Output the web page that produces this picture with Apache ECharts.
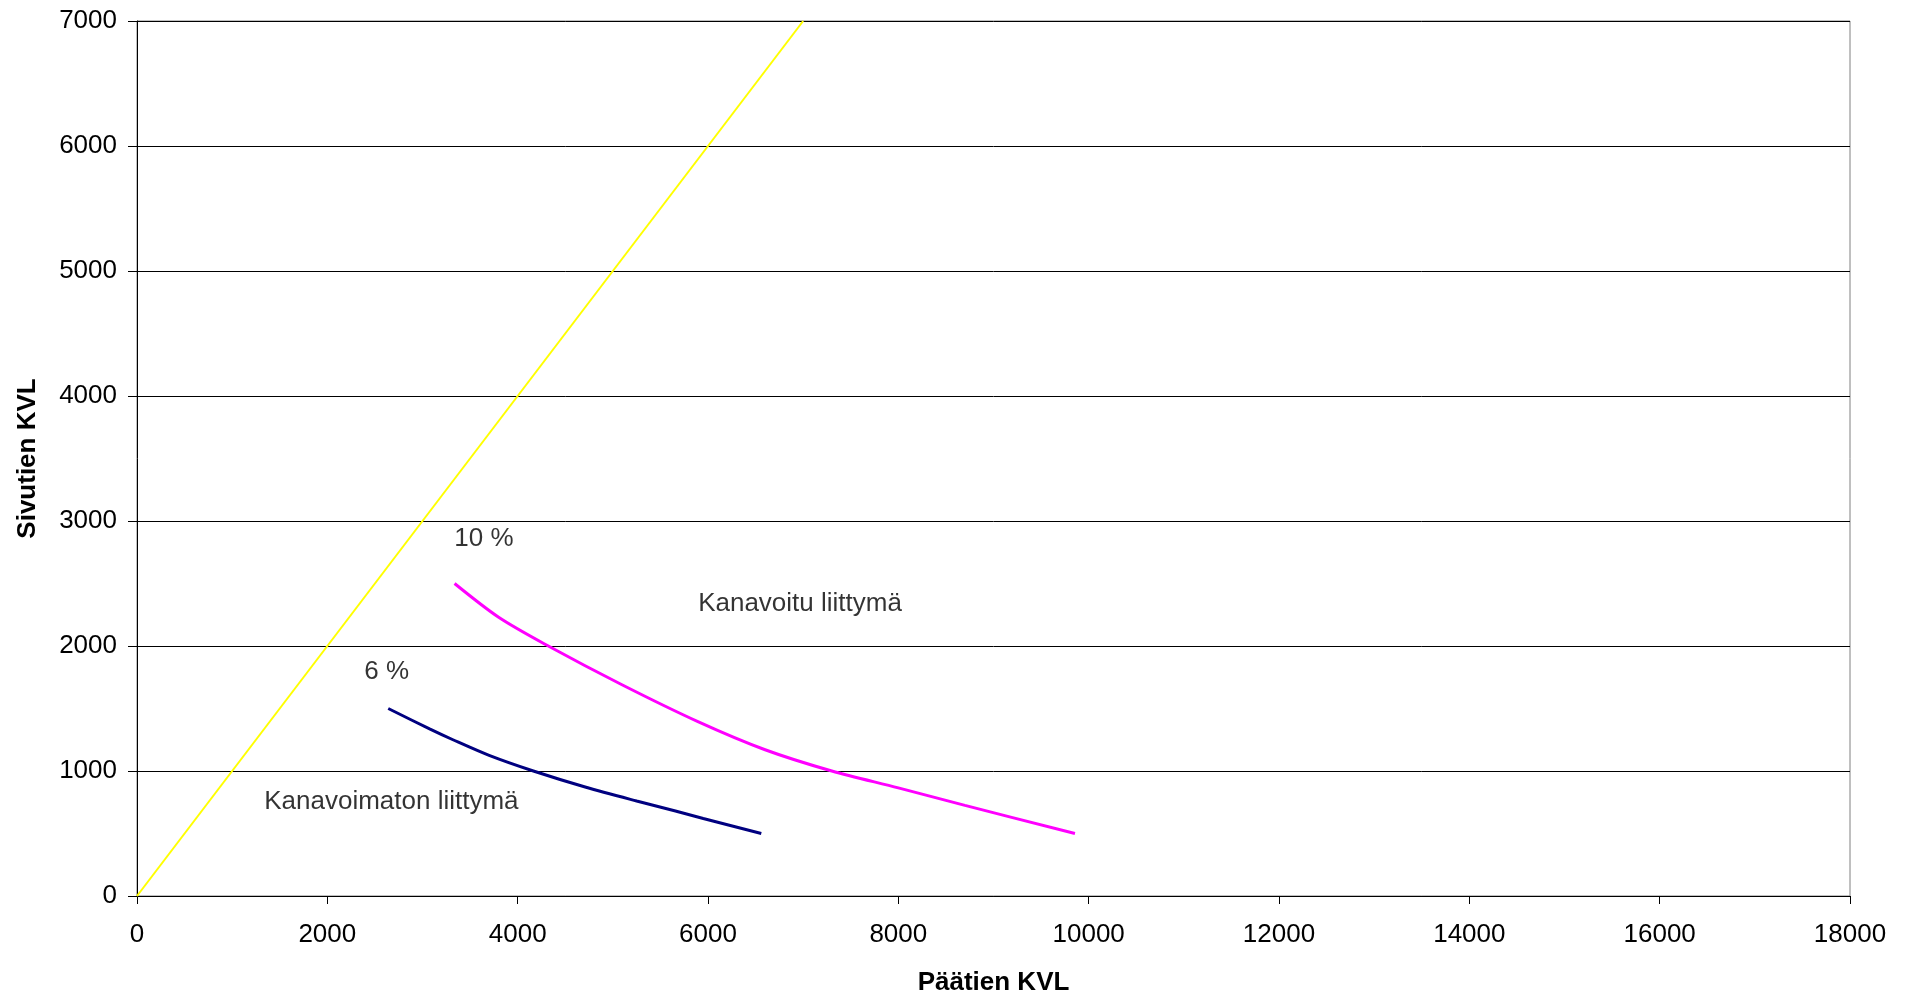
<!DOCTYPE html>
<html><head><meta charset="utf-8">
<script src="https://cdn.jsdelivr.net/npm/echarts@6/dist/echarts.min.js"></script>
<style>html,body{margin:0;padding:0;background:#fff}#c{width:1906px;height:996px}</style>
</head><body><div id="c"></div>
<script>
const xTitle = 'Päätien KVL';
const yTitle = 'Sivutien KVL';
const diagonal = [[0, 0], [7000, 7000]];
const kanavoitu10 = [[3337, 2500], [3800, 2230], [4322, 2000], [5096, 1690], [5894, 1395], [6600, 1170], [7301, 1000], [8000, 865], [8700, 725], [9856, 500]];
const kanavoimaton6 = [[2640, 1500], [3080, 1335], [3320, 1250], [3700, 1125], [4165, 1000], [4718, 870], [5250, 760], [5658, 680], [5950, 620], [6560, 500]];
const annotations = [
  { text: '10 %', x: 3646, y: 2860 },
  { text: 'Kanavoitu liittymä', x: 6967, y: 2336 },
  { text: '6 %', x: 2623, y: 1792 },
  { text: 'Kanavoimaton liittymä', x: 2673, y: 752 }
];
const font = '"Liberation Sans", Arial, sans-serif';
const chart = echarts.init(document.getElementById('c'));
chart.setOption({
  animation: false,
  backgroundColor: '#fff',
  grid: { left: 137, right: 56, top: 21, bottom: 100, show: true, borderColor: '#808080', borderWidth: 1, containLabel: false, outerBoundsMode: 'none' },
  xAxis: {
    type: 'value', min: 0, max: 18000, interval: 2000,
    name: xTitle, nameLocation: 'middle', nameGap: 74,
    nameTextStyle: { fontFamily: font, fontSize: 26, fontWeight: 'bold', color: '#000' },
    axisLine: { show: true, lineStyle: { color: '#000', width: 1 } },
    axisTick: { show: true, length: 8, lineStyle: { color: '#000' } },
    axisLabel: { fontFamily: font, fontSize: 26, color: '#000', margin: 26, formatter: v => String(v) },
    splitLine: { show: false }
  },
  yAxis: {
    type: 'value', min: 0, max: 7000, interval: 1000,
    name: yTitle, nameLocation: 'middle', nameGap: 96, nameRotate: 90,
    nameTextStyle: { fontFamily: font, fontSize: 26, fontWeight: 'bold', color: '#000' },
    axisLine: { show: true, lineStyle: { color: '#000', width: 1 } },
    axisTick: { show: true, length: 9, lineStyle: { color: '#000' } },
    axisLabel: { fontFamily: font, fontSize: 26, color: '#000', margin: 20, formatter: v => String(v) },
    splitLine: { show: true, lineStyle: { color: '#000', width: 1 } }
  },
  series: [
    { type: 'line', data: diagonal, symbol: 'none', lineStyle: { color: '#ffff00', width: 2 }, z: 3 },
    { type: 'line', data: kanavoitu10, symbol: 'none', smooth: 0.3, lineStyle: { color: '#ff00ff', width: 3 }, z: 4 },
    { type: 'line', data: kanavoimaton6, symbol: 'none', smooth: 0.3, lineStyle: { color: '#000080', width: 3 }, z: 4 },
    {
      type: 'scatter', symbolSize: 0, z: 5,
      data: annotations.map(a => ({ value: [a.x, a.y], name: a.text })),
      label: { show: true, position: 'inside', formatter: p => p.name, fontFamily: font, fontSize: 26, color: '#000' }
    }
  ]
});
</script></body></html>
